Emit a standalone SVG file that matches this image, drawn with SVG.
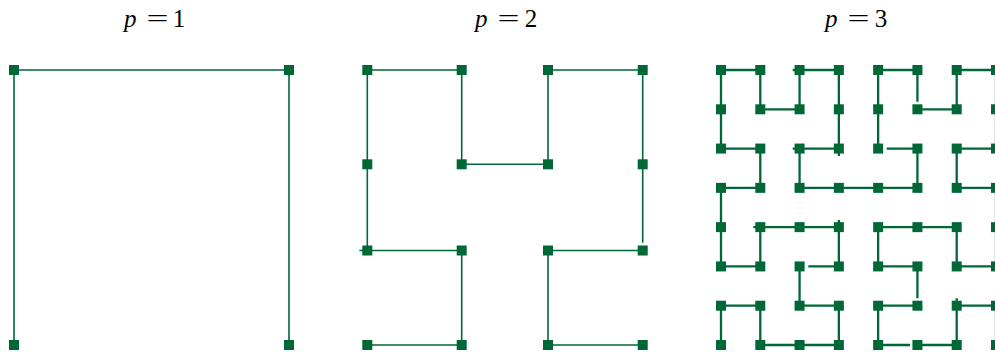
<svg xmlns="http://www.w3.org/2000/svg" xmlns:xlink="http://www.w3.org/1999/xlink" width="995" height="354" viewBox="0 0 995 354">
<style>
.lbl{font-family:"Liberation Serif","DejaVu Serif",serif;font-size:25px;fill:#000000}
.it{font-style:italic}
.c1{fill:none;stroke:#006837;stroke-width:1.6}
.c3{fill:none;stroke:#006837;stroke-width:2.3}
.nd{fill:#006837}
</style>
<defs>
<rect id="sq" x="-5" y="-5" width="10" height="10"/>
</defs>
<rect width="995" height="354" fill="#ffffff"/>

<g id="label-p1">
<text class="lbl it" x="124" y="26.5">p</text>
<text class="lbl" x="146.5" y="26.5" textLength="22" lengthAdjust="spacingAndGlyphs">=</text>
<text class="lbl" x="179" y="26.5" text-anchor="middle">1</text>
</g>
<g id="label-p2">
<text class="lbl it" x="475" y="26.5">p</text>
<text class="lbl" x="497.5" y="26.5" textLength="22" lengthAdjust="spacingAndGlyphs">=</text>
<text class="lbl" x="531" y="26.5" text-anchor="middle">2</text>
</g>
<g id="label-p3">
<text class="lbl it" x="825" y="26.5">p</text>
<text class="lbl" x="847.5" y="26.5" textLength="22" lengthAdjust="spacingAndGlyphs">=</text>
<text class="lbl" x="881" y="26.5" text-anchor="middle">3</text>
</g>

<g id="connectors">
<path id="curve-p1" class="c1" d="M14,345 V70 H289 V345"/>
<path id="curve-p2" class="c1" d="M367.3,345 H461.7 V250.5 H367.3 V70 H461.7 V164.3 H548 V70 H642.7 V242.7 M642.7,250.5 H548 V345 H642.7 M359.3,250.5 H367.3"/>
<path id="curve-p3" class="c3" d="M721,345 V305.71 H760.29 V345 H838.86 V305.71 H799.57 V266.43 M808.3,266.43 H838.86 V227.14 H760.29 V266.43 H721 V187.86 H760.29 V148.57 H721 V70 H760.29 V109.29 H799.57 V70 H838.86 V148.57 H799.57 V187.86 H917.43 V148.57 H886.7 M878.14,148.57 V70 H917.43 V101.7 M917.43,109.29 H956.71 V70 H996 V148.57 H956.71 V187.86 H996 V266.43 H956.71 V227.14 H878.14 V266.43 H917.43 V298.3 M917.43,305.71 H878.14 V345 H910 M917.43,345 H956.71 V305.71 H996 V345 M792.7,70 H799.57 M792.7,148.57 H799.57 M838.86,148.57 V156 M760.29,227.14 H753.3 M838.86,227.14 V220 M956.71,305.71 V298.3"/>
</g>

<g id="nodes-p1" class="nd">
<use xlink:href="#sq" x="14" y="70"/><use xlink:href="#sq" x="289" y="70"/>
<use xlink:href="#sq" x="14" y="345"/><use xlink:href="#sq" x="289" y="345"/>
</g>

<g id="nodes-p2" class="nd">
<use xlink:href="#sq" x="367.3" y="70"/><use xlink:href="#sq" x="461.7" y="70"/><use xlink:href="#sq" x="548" y="70"/><use xlink:href="#sq" x="642.7" y="70"/>
<use xlink:href="#sq" x="367.3" y="164.3"/><use xlink:href="#sq" x="461.7" y="164.3"/><use xlink:href="#sq" x="548" y="164.3"/><use xlink:href="#sq" x="642.7" y="164.3"/>
<use xlink:href="#sq" x="367.3" y="250.5"/><use xlink:href="#sq" x="461.7" y="250.5"/><use xlink:href="#sq" x="548" y="250.5"/><use xlink:href="#sq" x="642.7" y="250.5"/>
<use xlink:href="#sq" x="367.3" y="345"/><use xlink:href="#sq" x="461.7" y="345"/><use xlink:href="#sq" x="548" y="345"/><use xlink:href="#sq" x="642.7" y="345"/>
</g>

<g id="nodes-p3" class="nd">
<use xlink:href="#sq" x="721" y="70"/><use xlink:href="#sq" x="760.29" y="70"/><use xlink:href="#sq" x="799.57" y="70"/><use xlink:href="#sq" x="838.86" y="70"/><use xlink:href="#sq" x="878.14" y="70"/><use xlink:href="#sq" x="917.43" y="70"/><use xlink:href="#sq" x="956.71" y="70"/><use xlink:href="#sq" x="996" y="70"/>
<use xlink:href="#sq" x="721" y="109.29"/><use xlink:href="#sq" x="760.29" y="109.29"/><use xlink:href="#sq" x="799.57" y="109.29"/><use xlink:href="#sq" x="838.86" y="109.29"/><use xlink:href="#sq" x="878.14" y="109.29"/><use xlink:href="#sq" x="917.43" y="109.29"/><use xlink:href="#sq" x="956.71" y="109.29"/><use xlink:href="#sq" x="996" y="109.29"/>
<use xlink:href="#sq" x="721" y="148.57"/><use xlink:href="#sq" x="760.29" y="148.57"/><use xlink:href="#sq" x="799.57" y="148.57"/><use xlink:href="#sq" x="838.86" y="148.57"/><use xlink:href="#sq" x="878.14" y="148.57"/><use xlink:href="#sq" x="917.43" y="148.57"/><use xlink:href="#sq" x="956.71" y="148.57"/><use xlink:href="#sq" x="996" y="148.57"/>
<use xlink:href="#sq" x="721" y="187.86"/><use xlink:href="#sq" x="760.29" y="187.86"/><use xlink:href="#sq" x="799.57" y="187.86"/><use xlink:href="#sq" x="838.86" y="187.86"/><use xlink:href="#sq" x="878.14" y="187.86"/><use xlink:href="#sq" x="917.43" y="187.86"/><use xlink:href="#sq" x="956.71" y="187.86"/><use xlink:href="#sq" x="996" y="187.86"/>
<use xlink:href="#sq" x="721" y="227.14"/><use xlink:href="#sq" x="760.29" y="227.14"/><use xlink:href="#sq" x="799.57" y="227.14"/><use xlink:href="#sq" x="838.86" y="227.14"/><use xlink:href="#sq" x="878.14" y="227.14"/><use xlink:href="#sq" x="917.43" y="227.14"/><use xlink:href="#sq" x="956.71" y="227.14"/><use xlink:href="#sq" x="996" y="227.14"/>
<use xlink:href="#sq" x="721" y="266.43"/><use xlink:href="#sq" x="760.29" y="266.43"/><use xlink:href="#sq" x="799.57" y="266.43"/><use xlink:href="#sq" x="838.86" y="266.43"/><use xlink:href="#sq" x="878.14" y="266.43"/><use xlink:href="#sq" x="917.43" y="266.43"/><use xlink:href="#sq" x="956.71" y="266.43"/><use xlink:href="#sq" x="996" y="266.43"/>
<use xlink:href="#sq" x="721" y="305.71"/><use xlink:href="#sq" x="760.29" y="305.71"/><use xlink:href="#sq" x="799.57" y="305.71"/><use xlink:href="#sq" x="838.86" y="305.71"/><use xlink:href="#sq" x="878.14" y="305.71"/><use xlink:href="#sq" x="917.43" y="305.71"/><use xlink:href="#sq" x="956.71" y="305.71"/><use xlink:href="#sq" x="996" y="305.71"/>
<use xlink:href="#sq" x="721" y="345"/><use xlink:href="#sq" x="760.29" y="345"/><use xlink:href="#sq" x="799.57" y="345"/><use xlink:href="#sq" x="838.86" y="345"/><use xlink:href="#sq" x="878.14" y="345"/><use xlink:href="#sq" x="917.43" y="345"/><use xlink:href="#sq" x="956.71" y="345"/><use xlink:href="#sq" x="996" y="345"/>
</g>
</svg>
